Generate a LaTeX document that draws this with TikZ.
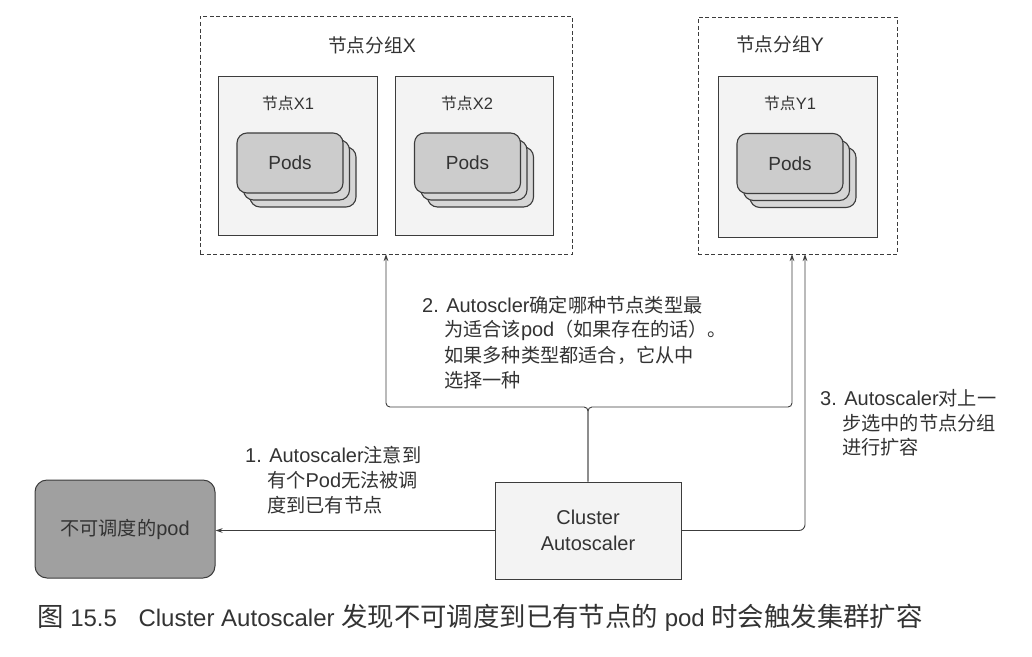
\documentclass[tikz,border=0pt]{standalone}
\usepackage{fontspec}
\setmainfont{Liberation Sans}
\newfontfamily\cjk[Scale=0.96]{Noto Sans CJK SC}
\newfontfamily\cjkcap[Scale=1.1]{Noto Sans CJK SC}
\usetikzlibrary{arrows.meta,calc}
\definecolor{ink}{HTML}{333333}
\definecolor{edge}{HTML}{3c3c3c}
\definecolor{nodefill}{HTML}{F3F3F3}
\definecolor{podfill}{HTML}{CCCCCC}
\definecolor{podback}{HTML}{D6D6D6}
\definecolor{darkpod}{HTML}{A0A0A0}
\newcommand{\podstack}[3]{%
  \node[podbox,fill=podback] (#1c) at (#2+13,#3+14) {};
  \node[podbox,fill=podback] (#1b) at (#2+6.5,#3+7) {};
  \node[podbox,fill=podfill,font=\fontsize{19}{22}\selectfont] (#1) at (#2,#3) {Pods};
}
\begin{document}
\begin{tikzpicture}[x=1pt,y=-1pt,
  text=ink,
  groupbox/.style={draw=edge,line width=0.9pt,dash pattern=on 4pt off 2.5pt,inner sep=0pt},
  nodebox/.style={draw=edge,fill=nodefill,line width=1pt,inner sep=0pt},
  podbox/.style={draw=edge,line width=1.1pt,rounded corners=10pt,minimum width=106pt,minimum height=60pt,inner sep=0pt},
  title/.style={font=\fontsize{19.5}{22}\selectfont,inner sep=0pt},
  nlabel/.style={font=\fontsize{16.5}{20}\selectfont,inner sep=0pt},
  lbl/.style={font=\fontsize{20}{24}\selectfont,inner sep=0pt,anchor=west},
  conn/.style={draw=edge,line width=0.9pt,rounded corners=6pt},
  arr/.style={conn,-{Stealth[length=7pt,width=4.5pt]}},
]
\useasboundingbox (0,0) rectangle (1032,656);
\fill[white] (0,0) rectangle (1032,656);

% group X
\node[groupbox,minimum width=372pt,minimum height=238pt] (gx) at (386,135) {};
\node[title] (gxt) at (372,45) {{\cjk 节点分组}X};
\node[nodebox,minimum width=159pt,minimum height=159pt] (x1) at (297.5,155.5) {};
\node[nodebox,minimum width=158pt,minimum height=159pt] (x2) at (474,155.5) {};
\node[nlabel] (x1t) at (288,103) {{\cjk 节点}X1};
\node[nlabel] (x2t) at (467,103) {{\cjk 节点}X2};
\podstack{px1}{290}{163}
\podstack{px2}{467.5}{163}

% group Y
\node[groupbox,minimum width=199pt,minimum height=237pt] (gy) at (797.5,135.5) {};
\node[title] (gyt) at (780,44) {{\cjk 节点分组}Y};
\node[nodebox,minimum width=159pt,minimum height=161pt] (y1) at (797.5,156.5) {};
\node[nlabel] (y1t) at (790,103) {{\cjk 节点}Y1};
\podstack{py1}{790}{163.5}

% bottom boxes
\node[draw=edge,fill=nodefill,line width=1pt,minimum width=186pt,minimum height=97pt,align=center,
  font=\fontsize{20}{26}\selectfont] (ca) at (588,530.5) {Cluster\\Autoscaler};
\node[draw=edge,fill=darkpod,line width=1pt,rounded corners=12pt,minimum width=180pt,minimum height=98pt,
  font=\fontsize{20}{24}\selectfont] (un) at (125,529) {{\cjk 不可调度的}pod};

% connector coordinates
\coordinate (bj) at (588,407);
\coordinate (gxa) at (386,254);
\coordinate (gya1) at (792,254);
\coordinate (gya2) at (805,254);

\draw[arr,rounded corners=4pt] (ca.north) -- (bj) -| (gxa);
\draw[arr,rounded corners=4pt] (ca.north) -- (bj) -| (gya1);
\draw[arr] (ca.east) -| (gya2);
\draw[arr] (ca.west) -- (ca.west -| un.east);

% labels
\node[lbl] (l1a) at (245,455) {1. Autoscaler{\cjk 注意到}};
\node[lbl] (l1b) at (267,480) {{\cjk 有个}Pod{\cjk 无法被调}};
\node[lbl] (l1c) at (267,505) {{\cjk 度到已有节点}};

\node[lbl] (l2a) at (422,305) {2. Autoscler{\cjk 确定哪种节点类型最}};
\node[lbl] (l2b) at (444,330) {{\cjk 为适合该}pod{\cjk （如果存在的话）。}};
\node[lbl] (l2c) at (444,355) {{\cjk 如果多种类型都适合，它从中}};
\node[lbl] (l2d) at (444,380) {{\cjk 选择一种}};

\node[lbl] (l3a) at (820,398) {3. Autoscaler{\cjk 对上一}};
\node[lbl] (l3b) at (842,423) {{\cjk 步选中的节点分组}};
\node[lbl] (l3c) at (842,447) {{\cjk 进行扩容}};

% caption
\node[anchor=west,inner sep=0pt,font=\fontsize{24}{30}\selectfont] (cap) at (37,618)
  {{\cjkcap 图} 15.5\hspace{0.9em}Cluster Autoscaler {\cjkcap 发现不可调度到已有节点的} pod {\cjkcap 时会触发集群扩容}};
\end{tikzpicture}
\end{document}
